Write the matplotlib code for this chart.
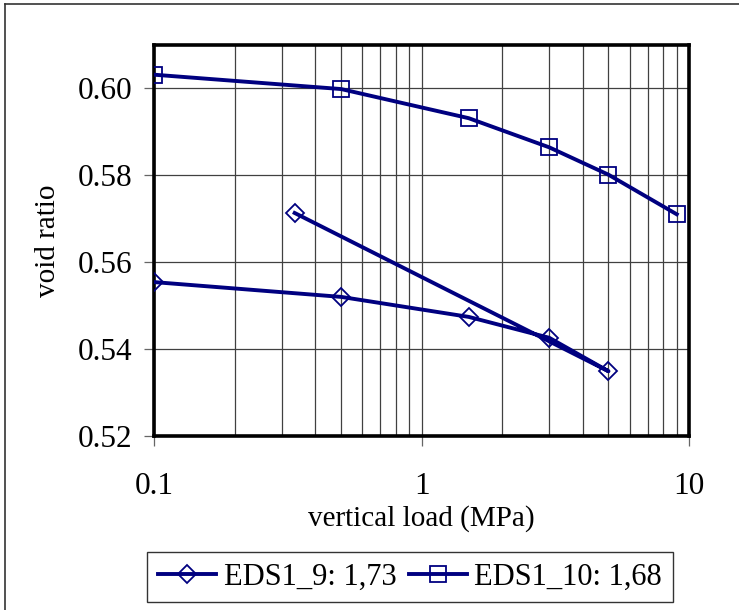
import matplotlib
matplotlib.use("Agg")
import matplotlib.pyplot as plt
from matplotlib.lines import Line2D
from matplotlib.ticker import FixedLocator, NullFormatter, FuncFormatter

plt.rcParams['font.family'] = ['Liberation Serif', 'DejaVu Serif']

# EDS1_9: loading 0.1 -> 5 MPa, then unloading back to 0.335 MPa
load_9 = [0.1, 0.5, 1.5, 3.0, 5.0, 0.335]
void_9 = [0.5554, 0.5520, 0.5474, 0.5426, 0.5349, 0.5713]
# EDS1_10: loading only
load_10 = [0.1, 0.5, 1.5, 3.0, 5.0, 9.0]
void_10 = [0.6031, 0.5998, 0.5931, 0.5864, 0.5801, 0.5710]

labels = ["EDS1_9: 1,73", "EDS1_10: 1,68"]
yticks = [0.52, 0.54, 0.56, 0.58, 0.60]
xmajor = [0.1, 1, 10]

navy = "#000080"

fig = plt.figure(figsize=(7.39, 6.10), dpi=100)
ax = fig.add_axes([0.2088, 0.2852, 0.7235, 0.6415])

ax.plot(load_9, void_9, color=navy, lw=2.8, marker="D", ms=9.2,
        mfc="none", mec=navy, mew=1.3, zorder=3)
ax.plot(load_10, void_10, color=navy, lw=2.8, marker="s", ms=12,
        mfc="none", mec=navy, mew=1.3, zorder=3)

ax.set_xscale("log")
ax.set_xlim(0.1, 10)
ax.set_ylim(0.52, 0.61)

ax.xaxis.set_major_locator(FixedLocator(xmajor))
ax.xaxis.set_major_formatter(FuncFormatter(lambda v, p: f"{v:g}"))
minors = [m * d for d in (0.1, 1) for m in range(2, 10)]
ax.xaxis.set_minor_locator(FixedLocator(minors))
ax.xaxis.set_minor_formatter(NullFormatter())
ax.yaxis.set_major_locator(FixedLocator(yticks))
ax.yaxis.set_major_formatter(FuncFormatter(lambda v, p: f"{v:.2f}"))

ax.grid(True, which="both", axis="x", color="0.25", lw=0.9)
ax.grid(True, which="major", axis="y", color="0.25", lw=0.9)

ax.tick_params(axis="both", which="major", direction="out", length=7,
               width=0.9, color="0.4", labelsize=22.5)
ax.tick_params(axis="x", which="major", pad=19)
ax.tick_params(axis="y", which="major", pad=9)
ax.tick_params(axis="x", which="minor", length=0)

for s in ax.spines.values():
    s.set_linewidth(2.6)
    s.set_color("black")

ax.set_xlabel("vertical load (MPa)", fontsize=21, labelpad=3)
ax.set_ylabel("void ratio", fontsize=21, labelpad=12)

handles = [
    Line2D([], [], color=navy, lw=2.8, marker="D", ms=9.2, mfc="none", mew=1.3),
    Line2D([], [], color=navy, lw=2.8, marker="s", ms=12, mfc="none", mew=1.3),
]
leg = fig.legend(handles, labels, loc="center",
                 bbox_to_anchor=(410 / 739, 1 - 577 / 610), ncol=2,
                 fontsize=22, frameon=True, fancybox=False, shadow=False,
                 handlelength=1.9, handletextpad=0.25, columnspacing=0.4,
                 borderpad=0.35, borderaxespad=0)
leg.get_frame().set_edgecolor("black")
leg.get_frame().set_linewidth(1.0)

# outer frame of the chart area (left and top edges)
fig.add_artist(Line2D([5 / 739, 5 / 739], [0, 1 - 4 / 610],
                      transform=fig.transFigure, color="0.2", lw=1.2))
fig.add_artist(Line2D([5 / 739, 1], [1 - 4 / 610, 1 - 4 / 610],
                      transform=fig.transFigure, color="0.2", lw=1.2))

fig.savefig("out.png", dpi=100)
